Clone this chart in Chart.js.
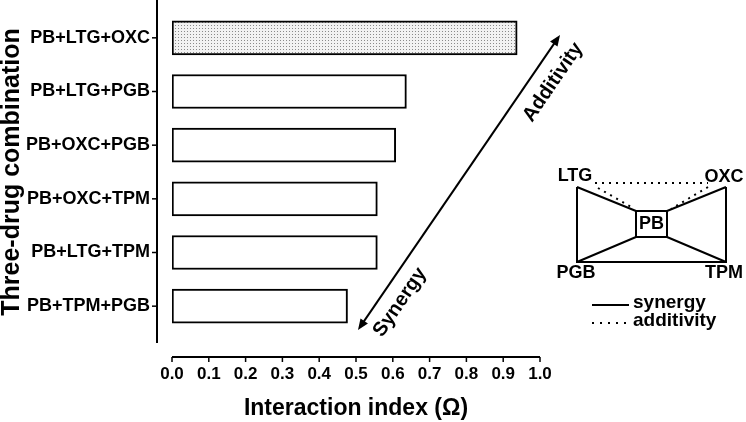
<!DOCTYPE html>
<html>
<head>
<meta charset="utf-8">
<script src="https://cdn.jsdelivr.net/npm/chart.js@4.4.1/dist/chart.umd.min.js"></script>
<style>
  html, body { margin: 0; padding: 0; background: #fff; }
</style>
</head>
<body>
<canvas id="c" width="746" height="422"></canvas>
<script>
// data
const combos = ['PB+LTG+OXC', 'PB+LTG+PGB', 'PB+OXC+PGB', 'PB+OXC+TPM', 'PB+LTG+TPM', 'PB+TPM+PGB'];
const omega = [0.938, 0.637, 0.608, 0.558, 0.558, 0.477];
const xTicks = [0, 0.1, 0.2, 0.3, 0.4, 0.5, 0.6, 0.7, 0.8, 0.9, 1.0];

const FONT = "Arial, 'Liberation Sans', Helvetica, sans-serif";

// dotted fill for the additive combination
function dots() {
    const p = document.createElement('canvas');
    p.width = 3; p.height = 3;
    const g = p.getContext('2d');
    g.fillStyle = '#f2f2f2';
    g.fillRect(0, 0, 3, 3);
    g.fillStyle = '#8a8a8a';
    g.fillRect(1, 1, 1, 1);
    return g.createPattern(p, 'repeat');
}

// ── axis lines, arrow and the small scheme on the right ──
const extras = {
    id: 'extras',
    afterDraw(chart) {
        const ctx = chart.ctx;
        const xs = chart.scales.x, ys = chart.scales.y;
        ctx.save();
        ctx.strokeStyle = '#000';
        ctx.fillStyle = '#000';
        ctx.lineWidth = 2;

        // y axis line (offset, Prism style)
        const ax = xs.left - 15;
        ctx.beginPath();
        ctx.moveTo(ax, 0); ctx.lineTo(ax, ys.bottom + 10);
        ctx.stroke();
        ctx.lineWidth = 1.5;
        combos.forEach((_, i) => {
            const y = ys.getPixelForTick(i);
            ctx.beginPath(); ctx.moveTo(ax - 5, y); ctx.lineTo(ax, y); ctx.stroke();
        });

        // x axis line
        const ay = ys.bottom + 24;
        ctx.lineWidth = 2;
        ctx.beginPath();
        ctx.moveTo(xs.getPixelForValue(0), ay); ctx.lineTo(xs.getPixelForValue(1), ay);
        ctx.stroke();
        ctx.lineWidth = 1.5;
        xTicks.forEach(v => {
            const x = xs.getPixelForValue(v);
            ctx.beginPath(); ctx.moveTo(x, ay); ctx.lineTo(x, ay + 5); ctx.stroke();
        });

        // double arrow Synergy <-> Additivity
        const A = { x: 358, y: 330 }, B = { x: 560, y: 35 };
        const len = Math.hypot(B.x - A.x, B.y - A.y);
        const d = { x: (B.x - A.x) / len, y: (B.y - A.y) / len };
        const n = { x: -d.y, y: d.x };
        ctx.lineWidth = 2;
        ctx.beginPath(); ctx.moveTo(A.x + d.x * 8, A.y + d.y * 8); ctx.lineTo(B.x - d.x * 8, B.y - d.y * 8); ctx.stroke();
        const head = (tip, dir) => {
            ctx.beginPath();
            ctx.moveTo(tip.x, tip.y);
            ctx.lineTo(tip.x - dir.x * 11 + n.x * 4.5, tip.y - dir.y * 11 + n.y * 4.5);
            ctx.lineTo(tip.x - dir.x * 11 - n.x * 4.5, tip.y - dir.y * 11 - n.y * 4.5);
            ctx.closePath(); ctx.fill();
        };
        head(B, d);
        head(A, { x: -d.x, y: -d.y });

        const ang = Math.atan2(B.y - A.y, B.x - A.x);
        ctx.font = 'bold 20px ' + FONT;
        ctx.textAlign = 'center';
        ctx.textBaseline = 'middle';
        [['Additivity', 0.88, 21], ['Synergy', 0.13, 19]].forEach(([txt, t, off]) => {
            ctx.save();
            ctx.translate(A.x + (B.x - A.x) * t + n.x * off, A.y + (B.y - A.y) * t + n.y * off);
            ctx.rotate(ang);
            ctx.fillText(txt, 0, 0);
            ctx.restore();
        });

        // scheme
        const L = 577, R = 726, T = 187, Bt = 262;
        const bx0 = 636, bx1 = 667, by0 = 211, by1 = 237;
        ctx.lineWidth = 2;
        ctx.beginPath();
        ctx.moveTo(L, T); ctx.lineTo(L, Bt); ctx.lineTo(R, Bt); ctx.lineTo(R, T);
        ctx.moveTo(L, T); ctx.lineTo(bx0, by0);
        ctx.moveTo(R, T); ctx.lineTo(bx1, by0);
        ctx.moveTo(L, Bt); ctx.lineTo(bx0, by1);
        ctx.moveTo(R, Bt); ctx.lineTo(bx1, by1);
        ctx.stroke();
        ctx.strokeRect(bx0, by0, bx1 - bx0, by1 - by0);

        ctx.setLineDash([2, 5]);
        ctx.beginPath();
        ctx.moveTo(595, 183); ctx.lineTo(708, 183);
        ctx.moveTo(598, 188); ctx.lineTo(631, 207);
        ctx.moveTo(708, 187); ctx.lineTo(671, 209);
        ctx.stroke();
        ctx.setLineDash([]);

        ctx.font = 'bold 18px ' + FONT;
        ctx.fillText('LTG', 575, 176);
        ctx.fillText('OXC', 724, 177);
        ctx.fillText('PGB', 576, 273);
        ctx.fillText('TPM', 724, 273);
        ctx.fillText('PB', 651.5, 224.5);

        // legend
        ctx.beginPath(); ctx.moveTo(592, 305); ctx.lineTo(629, 305); ctx.stroke();
        ctx.setLineDash([2, 6]);
        ctx.beginPath(); ctx.moveTo(592, 323); ctx.lineTo(629, 323); ctx.stroke();
        ctx.setLineDash([]);
        ctx.font = 'bold 19px ' + FONT;
        ctx.textAlign = 'left';
        ctx.fillText('synergy', 633, 303);
        ctx.fillText('additivity', 633, 321);

        ctx.restore();
    }
};

const noPad = s => { s.paddingTop = 0; s.paddingBottom = 0; s.paddingLeft = 0; s.paddingRight = 0; };

new Chart(document.getElementById('c'), {
    type: 'bar',
    data: {
        labels: combos,
        datasets: [{
            data: omega,
            backgroundColor: omega.map((v, i) => i === 0 ? dots() : '#fff'),
            borderColor: '#000',
            borderWidth: 2,
            borderSkipped: false,
            barThickness: 34,
        }],
    },
    options: {
        indexAxis: 'y',
        responsive: false,
        animation: false,
        devicePixelRatio: 1,
        layout: { padding: { top: 11, right: 206, left: 0, bottom: 0 } },
        plugins: { legend: { display: false }, tooltip: { enabled: false } },
        scales: {
            x: {
                min: 0, max: 1,
                afterFit: s => { s.height = 89; noPad(s); },
                afterBuildTicks: s => { s.ticks = xTicks.map(v => ({ value: v })); },
                grid: { display: false, drawTicks: false },
                border: { display: false },
                ticks: { color: '#000', padding: 31, font: { family: FONT, size: 17, weight: 'bold' }, callback: v => v.toFixed(1) },
                title: { display: true, text: 'Interaction index (Ω)', color: '#000', padding: 0, font: { family: FONT, size: 23, weight: 'bold' } },
            },
            y: {
                afterFit: s => { s.width = 172; noPad(s); },
                grid: { display: false, drawTicks: false },
                border: { display: false },
                ticks: { color: '#000', padding: 22, font: { family: FONT, size: 18, weight: 'bold' } },
                title: { display: true, text: 'Three-drug combination', color: '#000', padding: { top: -3, bottom: 0 }, font: { family: FONT, size: 25, weight: 'bold' } },
            },
        },
    },
    plugins: [extras],
});
</script>
</body>
</html>
